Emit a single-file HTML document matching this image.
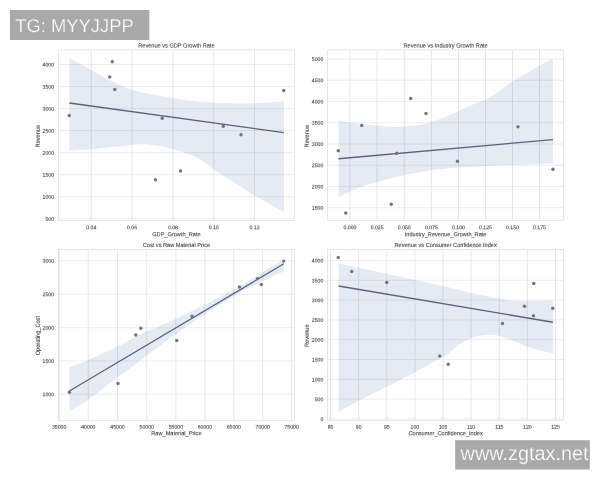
<!DOCTYPE html>
<html lang="en"><head><meta charset="utf-8"><title>Regression plots</title>
<style>
html,body{margin:0;padding:0;background:#fff;}
body{width:600px;height:480px;overflow:hidden;position:relative;font-family:"Liberation Sans",sans-serif;}
svg{position:absolute;left:0;top:0;display:block;}
svg text{font-family:"Liberation Sans",sans-serif;fill:#3e3e3e;text-rendering:geometricPrecision;}
.tk{font-size:5.15px;}
.lb{font-size:5.62px;}
svg text.wm{fill:#ffffff;stroke:#a9a9a9;stroke-width:0.25px;}
.txt text{stroke:#3e3e3e;stroke-width:0.09px;}
</style></head><body>
<svg width="600" height="480" viewBox="0 0 600 480">
<rect x="0" y="0" width="600" height="480" fill="#ffffff"/>
<defs><filter id="soft" x="0" y="0" width="600" height="480" filterUnits="userSpaceOnUse"><feGaussianBlur stdDeviation="0.25"/></filter></defs>
<g>
<path d="M91.25 50V220.5M132 50V220.5M172.9 50V220.5M213.7 50V220.5M254.5 50V220.5" stroke="#cacaca" stroke-width="0.45" fill="none"/>
<path d="M58.3 64.5H294.5M58.3 86.55H294.5M58.3 108.6H294.5M58.3 130.6H294.5M58.3 152.65H294.5M58.3 174.7H294.5M58.3 196.75H294.5M58.3 218.8H294.5" stroke="#d2d2d2" stroke-width="0.4" fill="none"/>
<rect x="58.3" y="50" width="236.2" height="170.5" fill="none" stroke="#cccccc" stroke-width="0.45"/>
<path d="M69.4 58C73.04 60 84.11 66.12 91.25 70C98.39 73.88 105.46 77.97 112.25 81.25C119.04 84.53 125.71 87.58 132 89.7C138.29 91.83 143.04 92.57 150 94C156.96 95.43 166.12 97.08 173.75 98.3C181.38 99.52 189.09 100.57 195.8 101.3C202.51 102.03 207.05 102.32 214 102.7C220.95 103.08 230.75 103.52 237.5 103.6C244.25 103.68 246.77 103.53 254.5 103.2C262.23 102.87 279 101.87 283.9 101.6L283.9 211.7C281.03 210.17 271.65 205.23 266.7 202.5C261.75 199.77 258.93 198.22 254.2 195.3C249.47 192.38 243.17 188.1 238.3 185C233.43 181.9 229.02 179.2 225 176.7C220.98 174.2 217.2 172.07 214.2 170C211.2 167.93 209.37 166.1 207 164.3C204.63 162.5 202.28 160.62 200 159.2C197.72 157.78 196.08 157 193.3 155.8C190.52 154.6 186.63 153.1 183.3 152C179.97 150.9 176.9 150.15 173.3 149.2C169.7 148.25 165.58 147.05 161.7 146.3C157.82 145.55 153.62 145.03 150 144.7C146.38 144.37 142.93 144.25 140 144.3C137.07 144.35 137.4 144.55 132.4 145C127.4 145.45 116.87 146.3 110 147C103.13 147.7 97.97 148.6 91.2 149.2C84.43 149.8 73.03 150.37 69.4 150.6Z" fill="#e5eaf3" style="mix-blend-mode:multiply"/>
<g filter="url(#soft)">
<line x1="69.4" y1="103" x2="283.9" y2="132.6" stroke="#59637a" stroke-width="1.3" stroke-linecap="butt"/>
<circle cx="69.25" cy="115.5" r="1.7" fill="#6f757d"/>
<circle cx="112.25" cy="61.75" r="1.7" fill="#6f757d"/>
<circle cx="109.75" cy="77" r="1.7" fill="#6f757d"/>
<circle cx="114.75" cy="89.5" r="1.7" fill="#6f757d"/>
<circle cx="283.75" cy="90.5" r="1.7" fill="#6f757d"/>
<circle cx="162.25" cy="118.25" r="1.7" fill="#6f757d"/>
<circle cx="223.25" cy="126.25" r="1.7" fill="#6f757d"/>
<circle cx="241" cy="134.75" r="1.7" fill="#6f757d"/>
<circle cx="180.5" cy="171" r="1.7" fill="#6f757d"/>
<circle cx="155.5" cy="179.75" r="1.7" fill="#6f757d"/>
</g>
<g class="txt">
<text class="tk" transform="translate(91.25 229.3) rotate(0.05) scale(1 1.05)" text-anchor="middle">0.04</text>
<text class="tk" transform="translate(132 229.3) rotate(0.05) scale(1 1.05)" text-anchor="middle">0.06</text>
<text class="tk" transform="translate(172.9 229.3) rotate(0.05) scale(1 1.05)" text-anchor="middle">0.08</text>
<text class="tk" transform="translate(213.7 229.3) rotate(0.05) scale(1 1.05)" text-anchor="middle">0.10</text>
<text class="tk" transform="translate(254.5 229.3) rotate(0.05) scale(1 1.05)" text-anchor="middle">0.12</text>
<text class="tk" transform="translate(54 66.6) rotate(0.05) scale(1 1.05)" text-anchor="end">4000</text>
<text class="tk" transform="translate(54 88.65) rotate(0.05) scale(1 1.05)" text-anchor="end">3500</text>
<text class="tk" transform="translate(54 110.7) rotate(0.05) scale(1 1.05)" text-anchor="end">3000</text>
<text class="tk" transform="translate(54 132.7) rotate(0.05) scale(1 1.05)" text-anchor="end">2500</text>
<text class="tk" transform="translate(54 154.75) rotate(0.05) scale(1 1.05)" text-anchor="end">2000</text>
<text class="tk" transform="translate(54 176.8) rotate(0.05) scale(1 1.05)" text-anchor="end">1500</text>
<text class="tk" transform="translate(54 198.85) rotate(0.05) scale(1 1.05)" text-anchor="end">1000</text>
<text class="tk" transform="translate(54 220.9) rotate(0.05) scale(1 1.05)" text-anchor="end">500</text>
<text class="lb" transform="translate(176.4 47.45) rotate(0.05) scale(1 1.05)" text-anchor="middle">Revenue vs GDP Growth Rate</text>
<text class="lb" transform="translate(176.4 236.2) rotate(0.05) scale(1 1.05)" text-anchor="middle">GDP_Growth_Rate</text>
<text class="lb" transform="translate(39.7 136.15) rotate(-89.95) scale(1 1.05)" text-anchor="middle">Revenue</text>
</g>
</g>
<g>
<path d="M350 50V220.5M377.1 50V220.5M404.3 50V220.5M431.4 50V220.5M458.5 50V220.5M485.5 50V220.5M512.5 50V220.5M539.5 50V220.5" stroke="#cacaca" stroke-width="0.45" fill="none"/>
<path d="M327.5 59H563.75M327.5 80.25H563.75M327.5 101.5H563.75M327.5 122.75H563.75M327.5 144H563.75M327.5 165.25H563.75M327.5 186.5H563.75M327.5 207.75H563.75" stroke="#d2d2d2" stroke-width="0.4" fill="none"/>
<rect x="327.5" y="50" width="236.25" height="170.5" fill="none" stroke="#cccccc" stroke-width="0.45"/>
<path d="M338.5 120.5C340.42 120.83 343.58 121.62 350 122.5C356.42 123.38 370.33 125.04 377 125.75C383.67 126.46 385.42 126.62 390 126.75C394.58 126.88 399.5 126.79 404.5 126.5C409.5 126.21 415.5 125.7 420 125C424.5 124.3 427.33 123.67 431.5 122.3C435.67 120.93 440.5 118.7 445 116.8C449.5 114.9 454.05 112.87 458.5 110.9C462.95 108.93 467.2 106.87 471.7 105C476.2 103.13 481.07 101.92 485.5 99.7C489.93 97.48 493.8 94.73 498.3 91.7C502.8 88.67 507.77 84.62 512.5 81.5C517.23 78.38 522.2 75.67 526.7 73C531.2 70.33 535.12 67.87 539.5 65.5C543.88 63.13 550.75 59.92 553 58.8L553 163.25C550.75 163.38 546.25 163.71 539.5 164C532.75 164.29 521.5 164.62 512.5 165C503.5 165.38 494.5 165.83 485.5 166.25C476.5 166.67 464.42 167.19 458.5 167.5C452.58 167.81 454.5 167.64 450 168.1C445.5 168.56 436.5 169.55 431.5 170.25C426.5 170.95 424.5 171.49 420 172.3C415.5 173.11 409.5 174.05 404.5 175.1C399.5 176.15 394.58 177.4 390 178.6C385.42 179.8 381.58 181.03 377 182.3C372.42 183.58 367 184.68 362.5 186.25C358 187.82 354 189.96 350 191.75C346 193.54 340.42 196.12 338.5 197Z" fill="#e5eaf3" style="mix-blend-mode:multiply"/>
<g filter="url(#soft)">
<line x1="338.5" y1="158.75" x2="553" y2="139.6" stroke="#59637a" stroke-width="1.3" stroke-linecap="butt"/>
<circle cx="410.75" cy="98.5" r="1.7" fill="#6f757d"/>
<circle cx="426" cy="113.5" r="1.7" fill="#6f757d"/>
<circle cx="361.75" cy="125.5" r="1.7" fill="#6f757d"/>
<circle cx="518" cy="126.75" r="1.7" fill="#6f757d"/>
<circle cx="338.25" cy="150.75" r="1.7" fill="#6f757d"/>
<circle cx="396.75" cy="153.25" r="1.7" fill="#6f757d"/>
<circle cx="391.25" cy="204.25" r="1.7" fill="#6f757d"/>
<circle cx="345.75" cy="213" r="1.7" fill="#6f757d"/>
<circle cx="457.5" cy="161.25" r="1.7" fill="#6f757d"/>
<circle cx="553" cy="169.25" r="1.7" fill="#6f757d"/>
</g>
<g class="txt">
<text class="tk" transform="translate(350 229.3) rotate(0.05) scale(1 1.05)" text-anchor="middle">0.000</text>
<text class="tk" transform="translate(377.1 229.3) rotate(0.05) scale(1 1.05)" text-anchor="middle">0.025</text>
<text class="tk" transform="translate(404.3 229.3) rotate(0.05) scale(1 1.05)" text-anchor="middle">0.050</text>
<text class="tk" transform="translate(431.4 229.3) rotate(0.05) scale(1 1.05)" text-anchor="middle">0.075</text>
<text class="tk" transform="translate(458.5 229.3) rotate(0.05) scale(1 1.05)" text-anchor="middle">0.100</text>
<text class="tk" transform="translate(485.5 229.3) rotate(0.05) scale(1 1.05)" text-anchor="middle">0.125</text>
<text class="tk" transform="translate(512.5 229.3) rotate(0.05) scale(1 1.05)" text-anchor="middle">0.150</text>
<text class="tk" transform="translate(539.5 229.3) rotate(0.05) scale(1 1.05)" text-anchor="middle">0.175</text>
<text class="tk" transform="translate(323.3 61.1) rotate(0.05) scale(1 1.05)" text-anchor="end">5000</text>
<text class="tk" transform="translate(323.3 82.35) rotate(0.05) scale(1 1.05)" text-anchor="end">4500</text>
<text class="tk" transform="translate(323.3 103.6) rotate(0.05) scale(1 1.05)" text-anchor="end">4000</text>
<text class="tk" transform="translate(323.3 124.85) rotate(0.05) scale(1 1.05)" text-anchor="end">3500</text>
<text class="tk" transform="translate(323.3 146.1) rotate(0.05) scale(1 1.05)" text-anchor="end">3000</text>
<text class="tk" transform="translate(323.3 167.35) rotate(0.05) scale(1 1.05)" text-anchor="end">2500</text>
<text class="tk" transform="translate(323.3 188.6) rotate(0.05) scale(1 1.05)" text-anchor="end">2000</text>
<text class="tk" transform="translate(323.3 209.85) rotate(0.05) scale(1 1.05)" text-anchor="end">1500</text>
<text class="lb" transform="translate(445.62 47.45) rotate(0.05) scale(1 1.05)" text-anchor="middle">Revenue vs Industry Growth Rate</text>
<text class="lb" transform="translate(445.62 236.2) rotate(0.05) scale(1 1.05)" text-anchor="middle">Industry_Revenue_Growth_Rate</text>
<text class="lb" transform="translate(308.8 136.15) rotate(-89.95) scale(1 1.05)" text-anchor="middle">Revenue</text>
</g>
</g>
<g>
<path d="M59.1 249.4V420.2M88.3 249.4V420.2M117.5 249.4V420.2M146.75 249.4V420.2M175.9 249.4V420.2M204.9 249.4V420.2M233.8 249.4V420.2M262.7 249.4V420.2M291.6 249.4V420.2" stroke="#cacaca" stroke-width="0.45" fill="none"/>
<path d="M58.3 260.75H294.5M58.3 294.25H294.5M58.3 327.75H294.5M58.3 360.9H294.5M58.3 394.25H294.5" stroke="#d2d2d2" stroke-width="0.4" fill="none"/>
<rect x="58.3" y="249.4" width="236.2" height="170.8" fill="none" stroke="#cccccc" stroke-width="0.45"/>
<path d="M69.4 367.6C72.54 366.34 80.23 363.52 88.25 360.02C96.27 356.51 109.99 350.26 117.5 346.57C125.01 342.88 128.43 340.43 133.3 337.89C138.18 335.35 142.63 333.19 146.75 331.31C150.87 329.44 154.12 328.25 158 326.64C161.88 325.02 164.53 324.13 170 321.62C175.47 319.11 183.13 315.34 190.8 311.58C198.47 307.81 207.73 303.3 216 299.03C224.27 294.76 232.82 290.34 240.4 285.96C247.98 281.58 256.07 276.13 261.5 272.74C266.93 269.35 269.27 267.95 273 265.62C276.73 263.29 282.08 259.89 283.9 258.75L283.9 271.25C282.08 272.08 276.73 274.49 273 276.22C269.27 277.95 266.93 278.98 261.5 281.64C256.07 284.3 247.98 287.93 240.4 292.16C232.82 296.39 224.27 301.83 216 307.03C207.73 312.23 198.47 318.12 190.8 323.38C183.13 328.64 175.47 334.61 170 338.62C164.53 342.63 161.88 344.61 158 347.44C154.12 350.27 150.87 352.54 146.75 355.61C142.63 358.69 138.18 362.26 133.3 365.89C128.43 369.52 125.01 371.72 117.5 377.37C109.99 383.02 96.27 394.2 88.25 399.82C80.23 405.44 72.54 409.22 69.4 411.1Z" fill="#e5eaf3" style="mix-blend-mode:multiply"/>
<g filter="url(#soft)">
<line x1="69.4" y1="391" x2="283.9" y2="263.75" stroke="#59637a" stroke-width="1.3" stroke-linecap="butt"/>
<circle cx="69.4" cy="392.3" r="1.7" fill="#6f757d"/>
<circle cx="118" cy="383.5" r="1.7" fill="#6f757d"/>
<circle cx="135.75" cy="335" r="1.7" fill="#6f757d"/>
<circle cx="140.8" cy="328.3" r="1.7" fill="#6f757d"/>
<circle cx="176.75" cy="340.5" r="1.7" fill="#6f757d"/>
<circle cx="192" cy="316.25" r="1.7" fill="#6f757d"/>
<circle cx="239.5" cy="287" r="1.7" fill="#6f757d"/>
<circle cx="257.5" cy="278.6" r="1.7" fill="#6f757d"/>
<circle cx="261.25" cy="284.5" r="1.7" fill="#6f757d"/>
<circle cx="283.75" cy="261.1" r="1.7" fill="#6f757d"/>
</g>
<g class="txt">
<text class="tk" transform="translate(59.1 428.8) rotate(0.05) scale(1 1.05)" text-anchor="middle">35000</text>
<text class="tk" transform="translate(88.3 428.8) rotate(0.05) scale(1 1.05)" text-anchor="middle">40000</text>
<text class="tk" transform="translate(117.5 428.8) rotate(0.05) scale(1 1.05)" text-anchor="middle">45000</text>
<text class="tk" transform="translate(146.75 428.8) rotate(0.05) scale(1 1.05)" text-anchor="middle">50000</text>
<text class="tk" transform="translate(175.9 428.8) rotate(0.05) scale(1 1.05)" text-anchor="middle">55000</text>
<text class="tk" transform="translate(204.9 428.8) rotate(0.05) scale(1 1.05)" text-anchor="middle">60000</text>
<text class="tk" transform="translate(233.8 428.8) rotate(0.05) scale(1 1.05)" text-anchor="middle">65000</text>
<text class="tk" transform="translate(262.7 428.8) rotate(0.05) scale(1 1.05)" text-anchor="middle">70000</text>
<text class="tk" transform="translate(291.6 428.8) rotate(0.05) scale(1 1.05)" text-anchor="middle">75000</text>
<text class="tk" transform="translate(54 262.85) rotate(0.05) scale(1 1.05)" text-anchor="end">3000</text>
<text class="tk" transform="translate(54 296.35) rotate(0.05) scale(1 1.05)" text-anchor="end">2500</text>
<text class="tk" transform="translate(54 329.85) rotate(0.05) scale(1 1.05)" text-anchor="end">2000</text>
<text class="tk" transform="translate(54 363) rotate(0.05) scale(1 1.05)" text-anchor="end">1500</text>
<text class="tk" transform="translate(54 396.35) rotate(0.05) scale(1 1.05)" text-anchor="end">1000</text>
<text class="lb" transform="translate(176.4 246.95) rotate(0.05) scale(1 1.05)" text-anchor="middle">Cost vs Raw Material Price</text>
<text class="lb" transform="translate(176.4 435.2) rotate(0.05) scale(1 1.05)" text-anchor="middle">Raw_Material_Price</text>
<text class="lb" transform="translate(39.7 335.7) rotate(-89.95) scale(1 1.05)" text-anchor="middle">Operating_Cost</text>
</g>
</g>
<g>
<path d="M330.5 249.4V420.2M358.7 249.4V420.2M386.8 249.4V420.2M414.9 249.4V420.2M443 249.4V420.2M471.1 249.4V420.2M499.25 249.4V420.2M527.4 249.4V420.2M555.5 249.4V420.2" stroke="#cacaca" stroke-width="0.45" fill="none"/>
<path d="M327.5 260.5H563.75M327.5 280.3H563.75M327.5 300.1H563.75M327.5 319.9H563.75M327.5 339.7H563.75M327.5 359.5H563.75M327.5 379.3H563.75M327.5 399.2H563.75M327.5 419H563.75" stroke="#d2d2d2" stroke-width="0.4" fill="none"/>
<rect x="327.5" y="249.4" width="236.25" height="170.8" fill="none" stroke="#cccccc" stroke-width="0.45"/>
<path d="M338.5 263.75C341.88 264.38 350.71 265.83 358.75 267.5C366.79 269.17 377.42 271.67 386.75 273.75C396.08 275.83 405.38 277.92 414.75 280C424.12 282.08 437.12 284.97 443 286.25C448.88 287.53 445.33 286.57 450 287.7C454.67 288.82 462.79 291.16 471 293C479.21 294.84 492.33 297.5 499.25 298.75C506.17 300 507.79 300.08 512.5 300.5C517.21 300.92 520.77 301.23 527.5 301.25C534.23 301.27 548.67 300.71 552.9 300.6L552.9 353.9C551.03 353.38 544.77 351.63 541.7 350.8C538.63 349.97 536.95 349.6 534.5 348.9C532.05 348.2 529.67 347.55 527 346.6C524.33 345.65 521.25 344.33 518.5 343.2C515.75 342.07 512.75 340.7 510.5 339.8C508.25 338.9 506.83 338.42 505 337.8C503.17 337.18 501 336.53 499.5 336.1C498 335.67 497.22 335.43 496 335.2C494.78 334.97 493.78 334.75 492.2 334.7C490.62 334.65 488.33 334.75 486.5 334.9C484.67 335.05 482.95 335.28 481.2 335.6C479.45 335.92 477.68 336.35 476 336.8C474.32 337.25 472.77 337.7 471.1 338.3C469.43 338.9 467.68 339.58 466 340.4C464.32 341.22 462.75 342.05 461 343.2C459.25 344.35 457.33 345.8 455.5 347.3C453.67 348.8 452.08 350.57 450 352.2C447.92 353.83 446.12 355.25 443 357.1C439.88 358.95 435.96 360.73 431.25 363.3C426.54 365.87 422.24 368.53 414.75 372.5C407.26 376.47 395.64 382.38 386.3 387.1C376.96 391.82 366.67 396.69 358.7 400.8C350.73 404.91 341.87 409.93 338.5 411.75Z" fill="#e5eaf3" style="mix-blend-mode:multiply"/>
<g filter="url(#soft)">
<line x1="338.5" y1="286" x2="552.9" y2="322.25" stroke="#59637a" stroke-width="1.3" stroke-linecap="butt"/>
<circle cx="338.25" cy="257.5" r="1.7" fill="#6f757d"/>
<circle cx="351.75" cy="271.5" r="1.7" fill="#6f757d"/>
<circle cx="386.75" cy="282.5" r="1.7" fill="#6f757d"/>
<circle cx="533.75" cy="283.5" r="1.7" fill="#6f757d"/>
<circle cx="524.5" cy="306.25" r="1.7" fill="#6f757d"/>
<circle cx="552.75" cy="308.25" r="1.7" fill="#6f757d"/>
<circle cx="533.5" cy="315.75" r="1.7" fill="#6f757d"/>
<circle cx="502.5" cy="323.5" r="1.7" fill="#6f757d"/>
<circle cx="439.75" cy="356" r="1.7" fill="#6f757d"/>
<circle cx="448.25" cy="364.25" r="1.7" fill="#6f757d"/>
</g>
<g class="txt">
<text class="tk" transform="translate(330.5 428.8) rotate(0.05) scale(1 1.05)" text-anchor="middle">85</text>
<text class="tk" transform="translate(358.7 428.8) rotate(0.05) scale(1 1.05)" text-anchor="middle">90</text>
<text class="tk" transform="translate(386.8 428.8) rotate(0.05) scale(1 1.05)" text-anchor="middle">95</text>
<text class="tk" transform="translate(414.9 428.8) rotate(0.05) scale(1 1.05)" text-anchor="middle">100</text>
<text class="tk" transform="translate(443 428.8) rotate(0.05) scale(1 1.05)" text-anchor="middle">105</text>
<text class="tk" transform="translate(471.1 428.8) rotate(0.05) scale(1 1.05)" text-anchor="middle">110</text>
<text class="tk" transform="translate(499.25 428.8) rotate(0.05) scale(1 1.05)" text-anchor="middle">115</text>
<text class="tk" transform="translate(527.4 428.8) rotate(0.05) scale(1 1.05)" text-anchor="middle">120</text>
<text class="tk" transform="translate(555.5 428.8) rotate(0.05) scale(1 1.05)" text-anchor="middle">125</text>
<text class="tk" transform="translate(323.3 262.6) rotate(0.05) scale(1 1.05)" text-anchor="end">4000</text>
<text class="tk" transform="translate(323.3 282.4) rotate(0.05) scale(1 1.05)" text-anchor="end">3500</text>
<text class="tk" transform="translate(323.3 302.2) rotate(0.05) scale(1 1.05)" text-anchor="end">3000</text>
<text class="tk" transform="translate(323.3 322) rotate(0.05) scale(1 1.05)" text-anchor="end">2500</text>
<text class="tk" transform="translate(323.3 341.8) rotate(0.05) scale(1 1.05)" text-anchor="end">2000</text>
<text class="tk" transform="translate(323.3 361.6) rotate(0.05) scale(1 1.05)" text-anchor="end">1500</text>
<text class="tk" transform="translate(323.3 381.4) rotate(0.05) scale(1 1.05)" text-anchor="end">1000</text>
<text class="tk" transform="translate(323.3 401.3) rotate(0.05) scale(1 1.05)" text-anchor="end">500</text>
<text class="tk" transform="translate(323.3 421.1) rotate(0.05) scale(1 1.05)" text-anchor="end">0</text>
<text class="lb" transform="translate(445.62 246.95) rotate(0.05) scale(1 1.05)" text-anchor="middle">Revenue vs Consumer Confidence Index</text>
<text class="lb" transform="translate(445.62 435.2) rotate(0.05) scale(1 1.05)" text-anchor="middle">Consumer_Confidence_Index</text>
<text class="lb" transform="translate(308.8 335.7) rotate(-89.95) scale(1 1.05)" text-anchor="middle">Revenue</text>
</g>
</g>
<rect x="10" y="10" width="139.3" height="30" fill="#a9a9a9"/>
<text class="wm" x="15.2" y="32.2" font-size="18.4">TG: MYYJJPP</text>
<rect x="455.2" y="440.2" width="134.6" height="29.3" fill="#a9a9a9"/>
<text class="wm" x="460.6" y="460.3" font-size="19.85">www.zgtax.net</text>
</svg>
</body></html>
